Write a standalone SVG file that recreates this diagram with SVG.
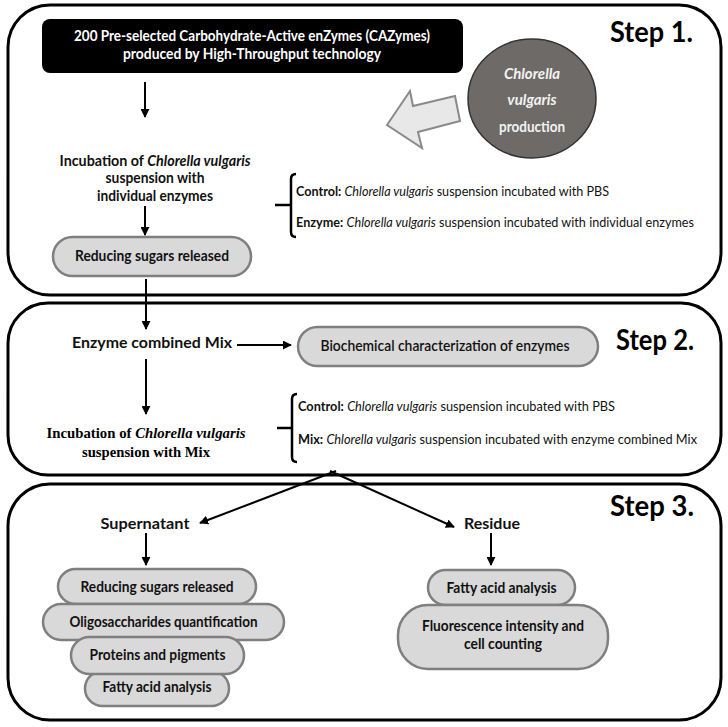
<svg xmlns="http://www.w3.org/2000/svg" width="728" height="727" viewBox="0 0 728 727">
<defs>
<marker id="ah" viewBox="0 0 10 10" refX="9" refY="5" markerWidth="4.5" markerHeight="4.5" orient="auto" markerUnits="strokeWidth">
<path d="M0,0 L10,5 L0,10 Z" fill="#000"/>
</marker>
<style>
.step{fill:#fff;stroke:#000;stroke-width:3}
.pill{fill:#d9d9d9;stroke:#7f7f7f;stroke-width:2.5}
.t{font-family:Lato,"Open Sans","Liberation Sans",sans-serif;font-weight:bold;font-size:15px;fill:#111}
.r{font-family:Lato,"Open Sans","Liberation Sans",sans-serif;font-size:13px;fill:#111}
.b{font-weight:bold}
.i{font-style:italic}
.title{font-family:Lato,"Open Sans","Liberation Sans",sans-serif;font-weight:bold;font-size:29px;fill:#000}
.serif{font-family:"Liberation Serif","Times New Roman",serif;font-weight:bold;font-size:15.5px;fill:#000}
.conn{stroke:#000;stroke-width:2;fill:none;marker-end:url(#ah)}
.brk{stroke:#000;stroke-width:2.5;fill:none}
</style>
</defs>

<g id="step1">
<rect class="step" x="8" y="5" width="713" height="290" rx="42"/>
<text class="title" x="610" y="42" textLength="83" lengthAdjust="spacingAndGlyphs">Step 1.</text>
</g>
<g id="step2">
<rect class="step" x="8" y="303" width="713" height="172" rx="40"/>
<text class="title" x="616" y="350" textLength="78" lengthAdjust="spacingAndGlyphs">Step 2.</text>
</g>
<g id="step3">
<rect class="step" x="8" y="484" width="713" height="236" rx="42"/>
<text class="title" x="610" y="516" textLength="84" lengthAdjust="spacingAndGlyphs">Step 3.</text>
</g>

<g id="cazymes">
<rect x="42" y="19" width="421" height="54" rx="8" fill="#000"/>
<text class="t" x="252" y="41" text-anchor="middle" style="fill:#fff" textLength="356" lengthAdjust="spacingAndGlyphs">200 Pre-selected Carbohydrate-Active enZymes (CAZymes)</text>
<text class="t" x="252" y="59" text-anchor="middle" style="fill:#fff" textLength="258" lengthAdjust="spacingAndGlyphs">produced by High-Throughput technology</text>
</g>

<g id="production">
<ellipse cx="532" cy="98.5" rx="64" ry="59.5" fill="#6e6a68" stroke="#333" stroke-width="1.5"/>
<text class="t i" x="532" y="79" text-anchor="middle" style="fill:#f2f2f2">Chlorella</text>
<text class="t i" x="532" y="105" text-anchor="middle" style="fill:#f2f2f2">vulgaris</text>
<text class="t" x="532" y="132" text-anchor="middle" style="fill:#f2f2f2" textLength="66" lengthAdjust="spacingAndGlyphs">production</text>
</g>

<g id="bigarrow">
<polygon points="387,125 410,91 413,106 455,96 460,121 418,132 422,148" fill="#e8e8e8" stroke="#8a8a8a" stroke-width="2" stroke-linejoin="miter"/>
</g>

<g id="incubation1">
<text class="t" x="155" y="166" text-anchor="middle" textLength="191" lengthAdjust="spacingAndGlyphs">Incubation of <tspan class="i">Chlorella vulgaris</tspan></text>
<text class="t" x="155" y="183" text-anchor="middle" textLength="99" lengthAdjust="spacingAndGlyphs">suspension with</text>
<text class="t" x="155" y="201" text-anchor="middle" textLength="116" lengthAdjust="spacingAndGlyphs">individual enzymes</text>
</g>

<g id="reducing1">
<rect class="pill" x="53" y="237" width="198" height="39" rx="19.5"/>
<text class="t" x="152" y="261" text-anchor="middle" textLength="154" lengthAdjust="spacingAndGlyphs">Reducing sugars released</text>
</g>

<g id="conditions1">
<path class="brk" d="M296,174 Q291,174 291,179 V232 Q291,237 296,237 M291,205 H275"/>
<text class="r" x="296" y="196" textLength="313" lengthAdjust="spacingAndGlyphs"><tspan class="b">Control:</tspan> <tspan class="i">Chlorella vulgaris</tspan> suspension incubated with PBS</text>
<text class="r" x="296" y="227" textLength="398" lengthAdjust="spacingAndGlyphs"><tspan class="b">Enzyme:</tspan> <tspan class="i">Chlorella vulgaris</tspan> suspension incubated with individual enzymes</text>
</g>

<g id="mix">
<text class="t" x="152" y="348" text-anchor="middle" textLength="160" lengthAdjust="spacingAndGlyphs">Enzyme combined Mix</text>
</g>

<g id="biochem">
<rect class="pill" x="298" y="327" width="300" height="39" rx="19.5"/>
<text class="t" x="445" y="351" text-anchor="middle" style="font-weight:600" textLength="249" lengthAdjust="spacingAndGlyphs">Biochemical characterization of enzymes</text>
</g>

<g id="incubation2">
<text class="serif" x="146" y="438" text-anchor="middle" textLength="199" lengthAdjust="spacingAndGlyphs">Incubation of <tspan class="i">Chlorella vulgaris</tspan></text>
<text class="serif" x="146" y="457" text-anchor="middle" textLength="128" lengthAdjust="spacingAndGlyphs">suspension with Mix</text>
</g>

<g id="conditions2">
<path class="brk" d="M297,394 Q292,394 292,399 V457 Q292,462 297,462 M292,428 H277"/>
<text class="r" x="298" y="411" textLength="317" lengthAdjust="spacingAndGlyphs"><tspan class="b">Control:</tspan> <tspan class="i">Chlorella vulgaris</tspan> suspension incubated with PBS</text>
<text class="r" x="298" y="444" textLength="399" lengthAdjust="spacingAndGlyphs"><tspan class="b">Mix:</tspan> <tspan class="i">Chlorella vulgaris</tspan> suspension incubated with enzyme combined Mix</text>
</g>

<g id="supernatant">
<text class="t" x="145" y="529" text-anchor="middle" textLength="89" lengthAdjust="spacingAndGlyphs">Supernatant</text>
</g>
<g id="residue">
<text class="t" x="492" y="529" text-anchor="middle" textLength="56" lengthAdjust="spacingAndGlyphs">Residue</text>
</g>

<g id="reducing2">
<rect class="pill" x="58" y="569" width="198" height="35" rx="17.5"/>
<text class="t" x="157" y="592" text-anchor="middle" textLength="153" lengthAdjust="spacingAndGlyphs">Reducing sugars released</text>
</g>
<g id="oligo">
<rect class="pill" x="43" y="604" width="241" height="36" rx="18"/>
<text class="t" x="163.5" y="627" text-anchor="middle" textLength="188" lengthAdjust="spacingAndGlyphs">Oligosaccharides quantification</text>
</g>
<g id="fatty1">
<rect class="pill" x="85" y="671" width="144" height="35" rx="17.5"/>
<text class="t" x="157" y="692" text-anchor="middle" textLength="109" lengthAdjust="spacingAndGlyphs">Fatty acid analysis</text>
</g>
<g id="proteins">
<rect class="pill" x="71" y="637" width="173" height="37" rx="18.5"/>
<text class="t" x="157.5" y="660" text-anchor="middle" textLength="136" lengthAdjust="spacingAndGlyphs">Proteins and pigments</text>
</g>

<g id="fatty2">
<rect class="pill" x="428" y="570" width="147" height="35" rx="17.5"/>
<text class="t" x="501.5" y="593" text-anchor="middle" textLength="110" lengthAdjust="spacingAndGlyphs">Fatty acid analysis</text>
</g>
<g id="fluorescence">
<rect class="pill" x="398" y="605" width="210" height="64" rx="30"/>
<text class="t" x="503" y="631" text-anchor="middle" textLength="162" lengthAdjust="spacingAndGlyphs">Fluorescence intensity and</text>
<text class="t" x="503" y="649" text-anchor="middle" textLength="78" lengthAdjust="spacingAndGlyphs">cell counting</text>
</g>

<g id="connectors">
<line class="conn" x1="145" y1="82" x2="145" y2="117"/>
<line class="conn" x1="145" y1="206" x2="145" y2="235"/>
<line class="conn" x1="146" y1="279" x2="146" y2="329"/>
<line class="conn" x1="237" y1="345" x2="291" y2="345"/>
<line class="conn" x1="146" y1="359" x2="146" y2="414"/>
<line class="conn" x1="336" y1="471" x2="200" y2="523"/>
<line class="conn" x1="330" y1="471" x2="454" y2="527"/>
<line class="conn" x1="146" y1="533" x2="146" y2="565"/>
<line class="conn" x1="491" y1="533" x2="491" y2="565"/>
</g>
</svg>
